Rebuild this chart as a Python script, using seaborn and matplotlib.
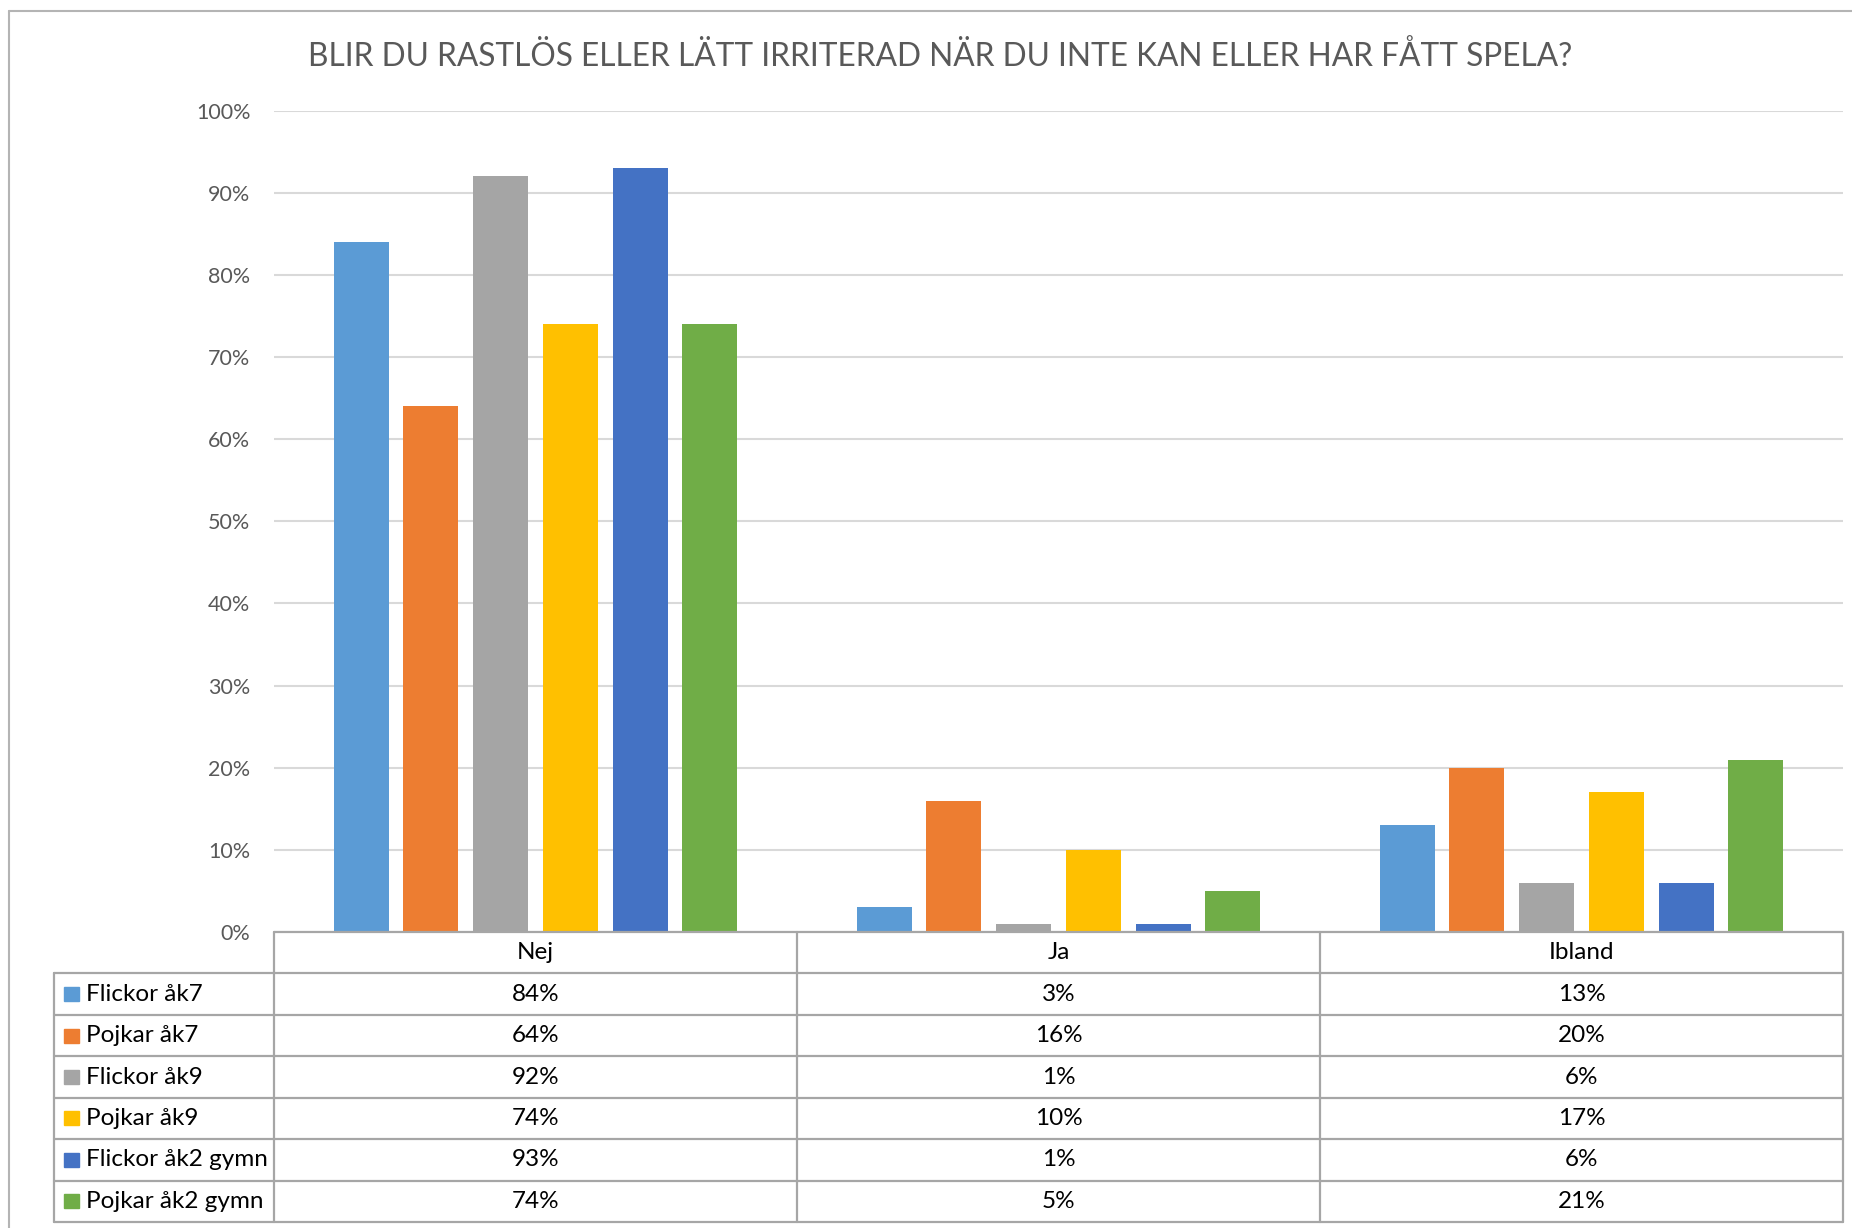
import matplotlib
matplotlib.use("Agg")
import matplotlib.pyplot as plt
import pandas as pd
import seaborn as sns
from matplotlib.lines import Line2D
from matplotlib.patches import Rectangle

# --- data -----------------------------------------------------------------
title = "BLIR DU RASTLÖS ELLER LÄTT IRRITERAD NÄR DU INTE KAN ELLER HAR FÅTT SPELA?"
categories = ["Nej", "Ja", "Ibland"]
groups = ["Flickor åk7", "Pojkar åk7", "Flickor åk9", "Pojkar åk9",
          "Flickor åk2 gymn", "Pojkar åk2 gymn"]
flickor_ak7 = [84, 3, 13]
pojkar_ak7 = [64, 16, 20]
flickor_ak9 = [92, 1, 6]
pojkar_ak9 = [74, 10, 17]
flickor_ak2_gymn = [93, 1, 6]
pojkar_ak2_gymn = [74, 5, 21]
y_ticks = [0, 10, 20, 30, 40, 50, 60, 70, 80, 90, 100]

series = [flickor_ak7, pojkar_ak7, flickor_ak9, pojkar_ak9,
          flickor_ak2_gymn, pojkar_ak2_gymn]
colors = ["#5B9BD5", "#ED7D31", "#A5A5A5", "#FFC000", "#4472C4", "#70AD47"]

df = pd.DataFrame(
    [(cat, grp, vals[i]) for grp, vals in zip(groups, series)
     for i, cat in enumerate(categories)],
    columns=["svar", "grupp", "andel"],
)

# --- figure ---------------------------------------------------------------
W, H = 1852, 1228
sns.set_theme(style="white")
plt.rcParams["font.family"] = ["Lato", "DejaVu Sans"]
fig = plt.figure(figsize=(W / 100, H / 100), dpi=100)

# outer chart frame (top and left edges)
frame_c = "#b4b4b4"
fig.add_artist(Line2D([9 / W, 9 / W], [0, 1 - 11 / H], color=frame_c, lw=1.5))
fig.add_artist(Line2D([9 / W, 1], [1 - 11 / H, 1 - 11 / H], color=frame_c, lw=1.5))

x0, x1 = 274, 1843
y_top, y_zero, y_bot = 110.7, 932, 1222
ax = fig.add_axes([x0 / W, 1 - y_zero / H, (x1 - x0) / W, (y_zero - y_top) / H])

sns.barplot(data=df, x="svar", y="andel", hue="grupp", order=categories,
            hue_order=groups, palette=colors, saturation=1, width=0.8, gap=0.21,
            errorbar=None, legend=False, linewidth=0, ax=ax)

ax.set_xlim(-0.5, 2.5)
ax.set_ylim(0, 100)
ax.set_yticks(y_ticks)
ax.set_yticklabels([f"{t}%" for t in y_ticks], color="#595959", fontsize=15.5)
ax.set_xticks([])
ax.set_xlabel("")
ax.set_ylabel("")
ax.tick_params(axis="y", length=0, pad=17)
for s in ax.spines.values():
    s.set_visible(False)
ax.set_axisbelow(True)
ax.yaxis.grid(True, color="#d9d9d9", lw=1.5)

fig.text(940 / W, 1 - 57 / H, title, ha="center", va="center",
         fontsize=22.8, color="#595959", fontweight="normal")

# --- data table under the plot -------------------------------------------
tx0 = 54
label_w = (x0 - tx0) / ((x1 - x0) / 3)
xl = -0.5 - label_w
tax = fig.add_axes([tx0 / W, 1 - y_bot / H, (x1 - tx0) / W, (y_bot - y_zero) / H])
tax.set_xlim(xl, 2.5)
tax.set_ylim(7, 0)
tax.axis("off")

line_c = "#a6a6a6"
lw = 1.6
tax.plot([-0.5, 2.5], [0, 0], color=line_c, lw=lw, clip_on=False)
for r in range(1, 8):
    tax.plot([xl, 2.5], [r, r], color=line_c, lw=lw, clip_on=False)
tax.plot([xl, xl], [1, 7], color=line_c, lw=lw, clip_on=False)
for c in [-0.5, 0.5, 1.5, 2.5]:
    tax.plot([c, c], [0, 7], color=line_c, lw=lw, clip_on=False)

txt_c = "#000000"
fs = 17.5
for i, cat in enumerate(categories):
    tax.text(i, 0.5, cat, ha="center", va="center", fontsize=fs, color=txt_c)

key_w = 15 / ((x1 - x0) / 3)
for r, (grp, vals, col) in enumerate(zip(groups, series, colors)):
    yc = r + 1.5
    tax.add_patch(Rectangle((xl + 10 / 523, yc - 0.17), key_w, 0.34,
                            color=col, clip_on=False))
    tax.text(xl + 32 / 523, yc, grp, ha="left", va="center", fontsize=fs, color=txt_c)
    for i, v in enumerate(vals):
        tax.text(i, yc, f"{v}%", ha="center", va="center", fontsize=fs, color=txt_c)

fig.savefig("out.png", dpi=100, facecolor="white")
